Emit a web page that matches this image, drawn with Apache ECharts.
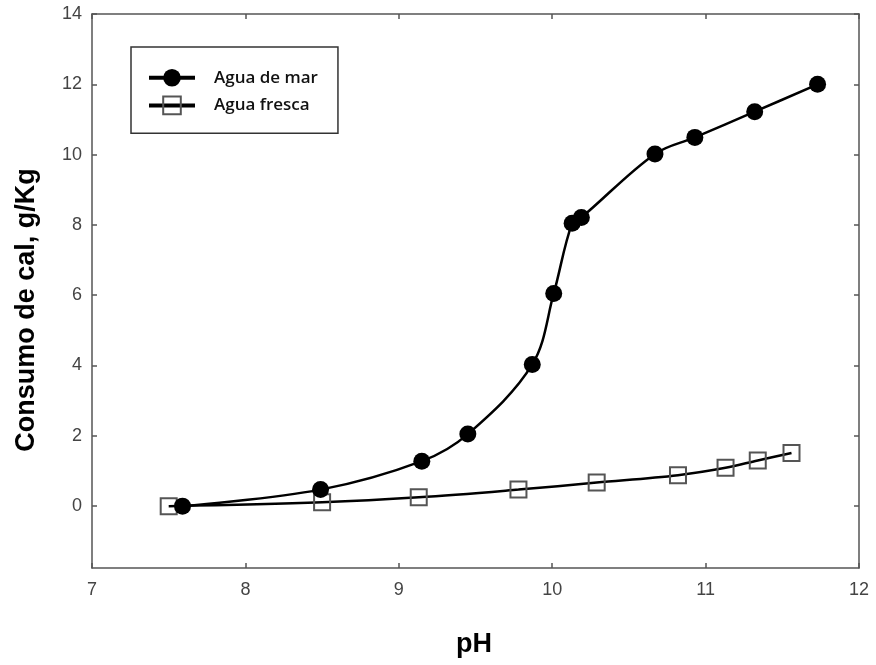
<!DOCTYPE html>
<html>
<head>
<meta charset="utf-8">
<script src="https://cdn.jsdelivr.net/npm/echarts@6/dist/echarts.min.js"></script>
<style>html,body{margin:0;padding:0;background:#fff}#c{width:876px;height:665px}</style>
</head>
<body>
<div id="c"></div>
<script>
const marPH  = [7.59, 8.49, 9.15, 9.45, 9.87, 10.01, 10.13, 10.19, 10.67, 10.93, 11.32, 11.73];
const marCal = [0.0, 0.47, 1.28, 2.05, 4.03, 6.05, 8.05, 8.21, 10.02, 10.49, 11.22, 12.0];
const frescaPH  = [7.50, 8.50, 9.13, 9.78, 10.29, 10.82, 11.13, 11.34, 11.56];
const frescaCal = [0.0, 0.11, 0.25, 0.47, 0.67, 0.88, 1.09, 1.30, 1.51];
const yTicks = [0, 2, 4, 6, 8, 10, 12, 14];
const seriesNames = ['Agua de mar', 'Agua fresca'];

const chart = echarts.init(document.getElementById('c'), null, {renderer: 'canvas'});
const axisLine = {show: true, onZero: false, lineStyle: {color: '#555', width: 1.5}};
const tick = {show: true, inside: true, length: 5, lineStyle: {color: '#555', width: 1.5}};
const labelFont = {color: '#444', fontSize: 18, fontFamily: 'Liberation Sans'};

chart.setOption({
  animation: false,
  grid: {left: 92, right: 17, top: 14, bottom: 97},
  legend: {
    orient: 'vertical', left: 131, top: 47,
    data: seriesNames,
    itemWidth: 46, itemHeight: 22, itemGap: 9,
    padding: [22, 20, 18, 16],
    borderColor: '#333', borderWidth: 1.5,
    lineStyle: {width: 4},
    textStyle: {fontFamily: 'Open Sans', fontSize: 17, fontWeight: 600, color: '#111', padding: [0, 0, 0, 14]}
  },
  xAxis: [
    {type: 'value', min: 7, max: 12, interval: 1, position: 'bottom',
     axisLine: axisLine, axisTick: tick, splitLine: {show: false},
     axisLabel: Object.assign({margin: 13}, labelFont)},
    {type: 'value', min: 7, max: 12, interval: 1, position: 'top',
     axisLine: axisLine, axisTick: tick, splitLine: {show: false}, axisLabel: {show: false}}
  ],
  yAxis: [
    {type: 'value', min: -1.76, max: 14, position: 'left',
     axisLine: axisLine, splitLine: {show: false},
     axisTick: Object.assign({customValues: yTicks}, tick),
     axisLabel: Object.assign({margin: 10, customValues: yTicks}, labelFont)},
    {type: 'value', min: -1.76, max: 14, position: 'right',
     axisLine: axisLine, splitLine: {show: false},
     axisTick: Object.assign({customValues: yTicks}, tick),
     axisLabel: {show: false}}
  ],
  graphic: [
    {type: 'text', x: 474, y: 645, style: {text: 'pH', font: 'bold 27px "Liberation Sans"', fill: '#000', textAlign: 'center', textVerticalAlign: 'middle'}},
    {type: 'text', rotation: Math.PI / 2, x: 27, y: 310, style: {text: 'Consumo de cal, g/Kg', font: 'bold 27px "Liberation Sans"', fill: '#000', textAlign: 'center', textVerticalAlign: 'middle'}}
  ],
  series: [
    {name: seriesNames[1], type: 'line', smooth: 0.35, z: 2,
     data: frescaPH.map((x, i) => [x, frescaCal[i]]),
     symbol: 'rect', symbolSize: 16,
     lineStyle: {color: '#000', width: 2.5},
     itemStyle: {color: 'rgba(255,255,255,0)', borderColor: '#555', borderWidth: 2}},
    {name: seriesNames[0], type: 'line', smooth: 0.35, z: 3,
     data: marPH.map((x, i) => [x, marCal[i]]),
     symbol: 'circle', symbolSize: 17,
     lineStyle: {color: '#000', width: 2.5},
     itemStyle: {color: '#000'}}
  ]
});
</script>
</body>
</html>
